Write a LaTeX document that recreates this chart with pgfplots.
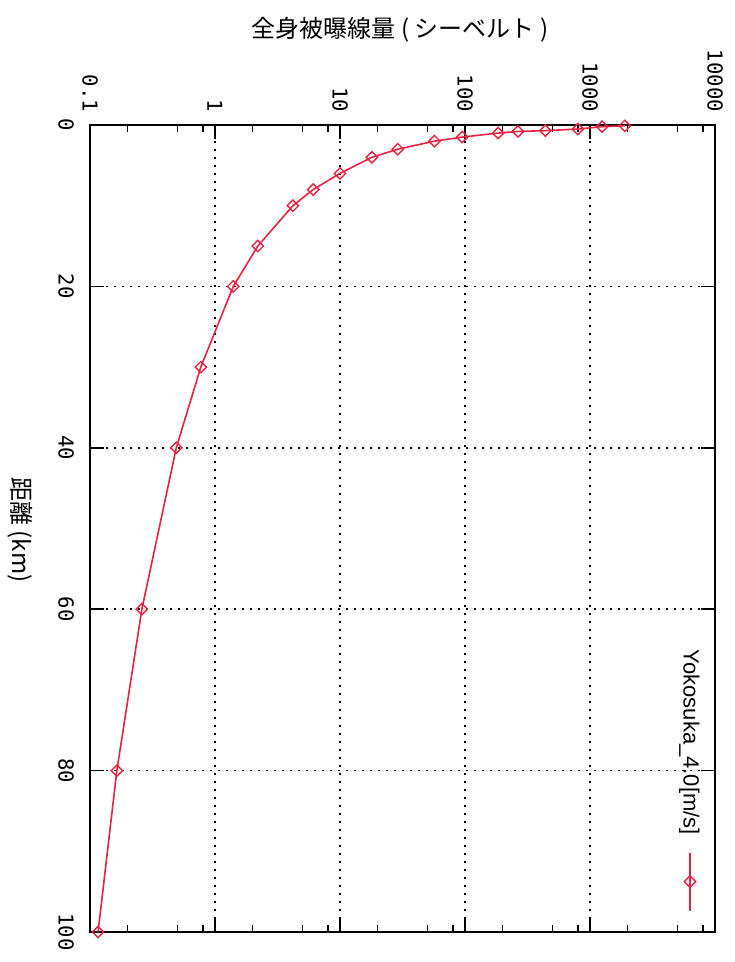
\documentclass[border=0pt]{standalone}
\usepackage{fontspec}
\setmainfont{Liberation Sans}
\newfontfamily\tickfont{DejaVu Sans Mono}
\newfontfamily\jp{Noto Sans CJK JP}
\usepackage{pgfplots}
\pgfplotsset{compat=1.18}
\definecolor{curve}{RGB}{232,34,66}

% distance (km) vs whole-body dose (Sv)
\pgfplotstableread{
dist dose
0.1  1900
0.2  1250
0.5  800
0.7  440
0.8  265
1    184
1.5  95
2    57
3    29
4    18
6    10
8    6.1
10   4.2
15   2.2
20   1.4
30   0.77
40   0.49
60   0.26
80   0.164
100  0.116
}\yokosuka

\begin{document}
\begin{tikzpicture}
\useasboundingbox (0,0) rectangle (367pt,481pt);
\begin{axis}[
  at={(45pt,15pt)}, anchor=south west,
  width=312.5pt, height=403.5pt, scale only axis,
  xmode=log, xmin=0.1, xmax=10000,
  ymin=0, ymax=100, y dir=reverse,
  axis line style={black, line width=0.8pt},
  xtick={0.1,1,10,100,1000,10000},
  xticklabels={0.1,1,10,100,1000,10000},
  minor xtick={0.2,0.5,0.8,2,5,8,20,50,80,200,500,800,2000,5000,8000},
  ytick={0,20,40,60,80,100},
  yticklabels={0,20,40,60,80,100},
  xticklabel pos=top,
  tick align=inside,
  major tick length=7pt, minor tick length=3.5pt,
  tick style={black, line width=0.8pt},
  xticklabel style={font=\tickfont\fontsize{10.3}{11}\selectfont, rotate=-90, anchor=east},
  yticklabel style={font=\tickfont\fontsize{10.3}{11}\selectfont, rotate=-90, anchor=north},
  xticklabel shift=3pt, yticklabel shift=4.5pt,
  grid=major,
  grid style={black, line width=0.8pt, dash pattern=on 0.8pt off 3.2pt},
  legend image code/.code={
    \draw[mark repeat=2, mark phase=2, #1] plot coordinates {(0pt,0pt)(0pt,-14.5pt)(0pt,-29pt)};
    \node[rotate=-90, anchor=east, inner sep=0pt, text=black,
      font=\fontsize{11}{13}\selectfont] at (0pt,8.5pt) {Yokosuka\_4.0[m/s]};
  },
  legend style={draw=none, fill=none, inner sep=0pt, nodes={inner sep=0pt},
    at={(0.9616,0.025)}, anchor=south},
]
\addplot[curve, line width=0.8pt, mark=square, mark size=2pt,
  mark options={solid, fill=none, line width=0.7pt, rotate=45}]
  table[x=dose, y=dist] {\yokosuka};
\addlegendentry{}
\end{axis}
\node[font=\jp\fontsize{12}{14}\selectfont] at (200pt,466pt) {全身被曝線量 ( シーベルト )};
\node[font=\jp\fontsize{12}{14}\selectfont, rotate=-90] at (10pt,216pt) {距離 (km)};
\end{tikzpicture}
\end{document}
